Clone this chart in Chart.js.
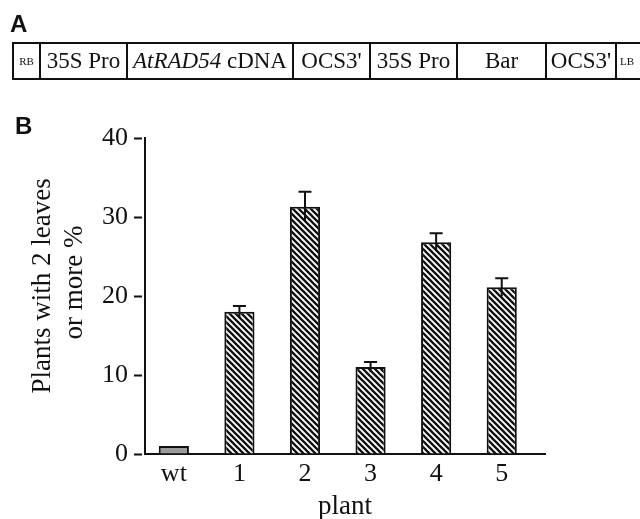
<!DOCTYPE html>
<html lang="en">
<head>
    <meta charset="UTF-8">
    <title>AtRAD54 plants</title>
    <script src="https://cdn.jsdelivr.net/npm/chart.js"></script>
    <style>
        body {
            margin: 0;
            background: #fff;
        }
        #wrap {
            position: relative;
            width: 640px;
            height: 519px;
            overflow: hidden;
            font-family: "Liberation Serif", serif;
            color: #111;
        }
        .panel {
            position: absolute;
            font-family: "Liberation Sans", Arial, sans-serif;
            font-weight: bold;
            font-size: 24px;
            line-height: 24px;
        }
        #construct {
            position: absolute;
            left: 12px;
            top: 42px;
            width: 660px;
            height: 38px;
            border-top: 2px solid #111;
            border-bottom: 2px solid #111;
            box-sizing: border-box;
        }
        .cell {
            position: absolute;
            top: 0;
            height: 34px;
            line-height: 34px;
            text-align: center;
            font-size: 23px;
            border-left: 2px solid #111;
            box-sizing: border-box;
            white-space: nowrap;
        }
        .small { font-size: 11px; }
        canvas {
            position: absolute;
            left: 0;
            top: 0;
        }
    </style>
</head>
<body>
<div id="wrap">
    <canvas id="leafChart" width="640" height="519"></canvas>
    <div class="panel" style="left:10px; top:12px;">A</div>
    <div id="construct">
        <div class="cell small" style="left:0; width:27px;">RB</div>
        <div class="cell" style="left:27px; width:87px;">35S Pro</div>
        <div class="cell" style="left:114px; width:166px;"><i>AtRAD54</i> cDNA</div>
        <div class="cell" style="left:280px; width:77px;">OCS3'</div>
        <div class="cell" style="left:357px; width:87px;">35S Pro</div>
        <div class="cell" style="left:444px; width:89px;">Bar</div>
        <div class="cell" style="left:533px; width:70px;">OCS3'</div>
        <div class="cell small" style="left:603px; width:30px; text-align:left; padding-left:3px;">LB</div>
    </div>
    <div class="panel" style="left:15px; top:114px;">B</div>
</div>

<script>
    const categories = ['wt', '1', '2', '3', '4', '5'];
    const positions = [0, 1, 2, 3, 4, 5];
    const percentValues = [1.0, 18.0, 31.3, 11.0, 26.8, 21.1];
    const errorValues = [0, 0.75, 1.9, 0.65, 1.15, 1.15];
    const yTicks = [0, 10, 20, 30, 40];

    const ink = '#111';
    const serif = 'Liberation Serif';
    Chart.defaults.font.family = serif;
    Chart.defaults.color = ink;

    const canvas = document.getElementById('leafChart');
    const ctx = canvas.getContext('2d');

    // diagonal hatch used for the transgenic lines
    function makeHatch() {
        const s = 6;
        const tile = document.createElement('canvas');
        tile.width = s;
        tile.height = s;
        const g = tile.getContext('2d');
        g.fillStyle = '#fff';
        g.fillRect(0, 0, s, s);
        g.strokeStyle = ink;
        g.lineWidth = 2.3;
        g.beginPath();
        g.moveTo(-1, -1); g.lineTo(s + 1, s + 1);
        g.moveTo(-1, s - 1); g.lineTo(1, s + 1);
        g.moveTo(s - 1, -1); g.lineTo(s + 1, 1);
        g.stroke();
        return ctx.createPattern(tile, 'repeat');
    }
    const hatch = makeHatch();

    const errorBars = {
        id: 'errorBars',
        afterDatasetsDraw(chart) {
            const c = chart.ctx;
            const y = chart.scales.y;
            const bars = chart.getDatasetMeta(0).data;
            c.save();
            c.strokeStyle = ink;
            c.lineWidth = 2;
            bars.forEach((bar, i) => {
                const e = errorValues[i];
                if (!e) return;
                const top = y.getPixelForValue(percentValues[i] + e);
                const bottom = y.getPixelForValue(percentValues[i] - e);
                c.beginPath();
                c.moveTo(bar.x, bottom);
                c.lineTo(bar.x, top);
                c.moveTo(bar.x - 6.5, top);
                c.lineTo(bar.x + 6.5, top);
                c.stroke();
            });
            c.restore();
        }
    };

    new Chart(ctx, {
        type: 'bar',
        data: {
            datasets: [{
                data: positions.map((p, i) => ({x: p, y: percentValues[i]})),
                backgroundColor: positions.map(p => p === 0 ? '#9b9b9b' : hatch),
                borderColor: ink,
                borderWidth: 2,
                categoryPercentage: 1,
                barPercentage: 0.46
            }]
        },
        options: {
            responsive: false,
            animation: false,
            layout: { padding: { left: 0, top: 138, right: 95, bottom: 0 } },
            plugins: {
                legend: { display: false },
                tooltip: { enabled: false }
            },
            scales: {
                x: {
                    type: 'linear',
                    offset: false,
                    min: -0.44,
                    max: 5.66,
                    afterBuildTicks: s => { s.ticks = positions.map(v => ({value: v})); },
                    afterFit: s => { s.height = 65; },
                    grid: { display: false, drawTicks: false, offset: false },
                    border: { display: true, color: ink, width: 2 },
                    ticks: {
                        padding: 5,
                        autoSkip: false,
                        maxRotation: 0,
                        font: { size: 26 },
                        callback: v => categories[positions.indexOf(v)]
                    },
                    title: {
                        display: true,
                        text: 'plant',
                        font: { size: 27, lineHeight: 0.9 },
                        padding: { top: 0, bottom: 0 }
                    }
                },
                y: {
                    min: 0,
                    max: 40,
                    afterBuildTicks: s => { s.ticks = yTicks.map(v => ({value: v})); },
                    afterFit: s => { s.width = 145; },
                    grid: {
                        drawOnChartArea: false,
                        drawTicks: true,
                        tickLength: 11,
                        tickWidth: 2,
                        tickColor: ink,
                        tickBorderDash: [8, 20]
                    },
                    border: { color: ink, width: 2 },
                    ticks: { padding: 6, font: { size: 26 } },
                    title: {
                        display: true,
                        text: ['   Plants with 2 leaves', '    or more %'],
                        font: { size: 27, lineHeight: 32 / 27 },
                        padding: { top: 27, bottom: 0 }
                    }
                }
            }
        },
        plugins: [errorBars]
    });
</script>
</body>
</html>
